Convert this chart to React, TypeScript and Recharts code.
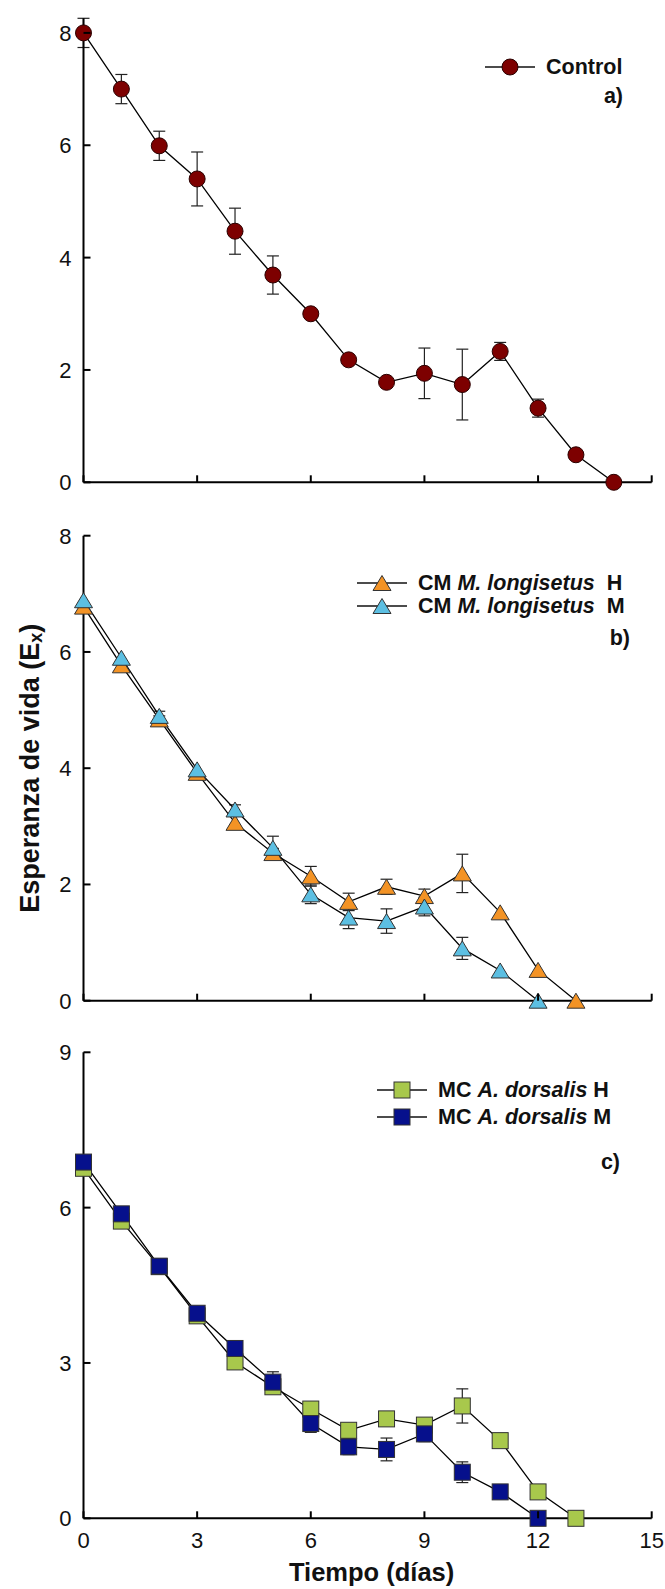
import React from 'react'
import { LineChart, Line, XAxis, YAxis, ErrorBar, Legend, Label } from 'recharts'

const FONT = 'Arial, "Liberation Sans", Helvetica, sans-serif'

// a) Control
const diasControl = [0, 1, 2, 3, 4, 5, 6, 7, 8, 9, 10, 11, 12, 13, 14]
const control = [8.0, 7.0, 5.99, 5.4, 4.47, 3.69, 3.0, 2.18, 1.78, 1.94, 1.74, 2.33, 1.32, 0.49, 0]
const controlErr = [0.26, 0.26, 0.26, 0.48, 0.41, 0.34, 0, 0, 0, 0.45, 0.63, 0.16, 0.16, 0, 0]

// b) CM M. longisetus
const diasB = [0, 1, 2, 3, 4, 5, 6, 7, 8, 9, 10, 11, 12, 13]
const longisetusH = [6.78, 5.77, 4.84, 3.92, 3.06, 2.54, 2.14, 1.7, 1.96, 1.8, 2.19, 1.52, 0.53, 0]
const longisetusHErr = [0, 0, 0.06, 0, 0, 0.08, 0.17, 0.15, 0.13, 0.12, 0.33, 0, 0, 0]
const longisetusM = [6.89, 5.9, 4.9, 3.98, 3.29, 2.63, 1.83, 1.43, 1.37, 1.62, 0.9, 0.52, 0]
const longisetusMErr = [0, 0, 0.08, 0, 0.08, 0.2, 0.16, 0.19, 0.21, 0.16, 0.19, 0, 0]

// c) MC A. dorsalis
const diasC = [0, 1, 2, 3, 4, 5, 6, 7, 8, 9, 10, 11, 12, 13]
const dorsalisH = [6.76, 5.74, 4.86, 3.91, 3.02, 2.54, 2.11, 1.7, 1.92, 1.8, 2.17, 1.5, 0.51, 0]
const dorsalisHErr = [0, 0, 0, 0, 0, 0.1, 0.12, 0.1, 0, 0.1, 0.33, 0, 0, 0]
const dorsalisM = [6.88, 5.88, 4.87, 3.96, 3.28, 2.63, 1.83, 1.38, 1.33, 1.63, 0.89, 0.51, 0]
const dorsalisMErr = [0, 0, 0, 0, 0, 0.2, 0.17, 0.15, 0.22, 0.15, 0.2, 0, 0]

const ticksX = [0, 3, 6, 9, 12, 15]
const ticksYab = [0, 2, 4, 6, 8]
const ticksYc = [0, 3, 6, 9]

const RED = '#7d0000'
const ORANGE = '#f39325'
const SKY = '#5cbfe2'
const LIME = '#a8c84c'
const NAVY = '#06108c'

const dataA = diasControl.map((d, i) => ({ dia: d, control: control[i], controlErr: controlErr[i] }))
const dataB = diasB.map((d, i) => ({
  dia: d,
  h: longisetusH[i],
  hErr: longisetusHErr[i],
  m: longisetusM[i] ?? null,
  mErr: longisetusMErr[i] ?? 0,
}))
const dataC = diasC.map((d, i) => ({
  dia: d,
  h: dorsalisH[i],
  hErr: dorsalisHErr[i],
  m: dorsalisM[i] ?? null,
  mErr: dorsalisMErr[i] ?? 0,
}))

type Mark = { cx?: number | null; cy?: number | null; fill: string }

function Circle({ cx, cy, fill }: Mark) {
  if (cx == null || cy == null) return <g />
  return <circle cx={cx} cy={cy} r={8} fill={fill} stroke="#2a0000" strokeWidth={1} />
}

function Triangle({ cx, cy, fill }: Mark) {
  if (cx == null || cy == null) return <g />
  const w = 9
  const h = 7.5
  return (
    <polygon
      points={`${cx},${cy - h} ${cx + w},${cy + h} ${cx - w},${cy + h}`}
      fill={fill}
      stroke="#333"
      strokeWidth={1}
    />
  )
}

function Square({ cx, cy, fill }: Mark) {
  if (cx == null || cy == null) return <g />
  return <rect x={cx - 8} y={cy - 8} width={16} height={16} fill={fill} stroke="#333" strokeWidth={1} />
}

const axisStroke = { stroke: '#000', strokeWidth: 2 }
const TICK_FONT = 22

// ticks point inwards, so draw tick mark + label ourselves
function YTick(props: any) {
  const { x, y, payload } = props
  return (
    <g>
      <line x1={x} x2={x + 7} y1={y} y2={y} stroke="#000" strokeWidth={2} />
      <text x={x - 12} y={y + 7.9} textAnchor="end" fontFamily={FONT} fontSize={TICK_FONT} fill="#111">
        {payload.value}
      </text>
    </g>
  )
}

function XTick(props: any) {
  const { x, y, payload, show } = props
  return (
    <g>
      <line x1={x} x2={x} y1={y} y2={y - 7} stroke="#000" strokeWidth={2} />
      {show && (
        <text x={x} y={y + 30} textAnchor="middle" fontFamily={FONT} fontSize={TICK_FONT} fill="#111">
          {payload.value}
        </text>
      )}
    </g>
  )
}

type LegendItem = { shape: 'circle' | 'triangle' | 'square'; fill: string; label: React.ReactNode }

function LegendBox({ items, rowGap, letter, letterTop, width }: {
  items: LegendItem[]
  rowGap: number
  letter: string
  letterTop: number
  width: number
}) {
  return (
    <div style={{ position: 'relative', width, height: letterTop + 24, fontFamily: FONT, fontWeight: 'bold', fontSize: 21.5, color: '#111' }}>
      {items.map((it, i) => (
        <div key={i} style={{ position: 'absolute', left: 0, top: i * rowGap, height: 22, display: 'flex', alignItems: 'center', whiteSpace: 'nowrap' }}>
          <svg width={50} height={22}>
            <line x1={0} x2={50} y1={11} y2={11} stroke="#111" strokeWidth={1.3} />
            {it.shape === 'circle' && <Circle cx={25} cy={11} fill={it.fill} />}
            {it.shape === 'triangle' && <Triangle cx={25} cy={11} fill={it.fill} />}
            {it.shape === 'square' && <Square cx={25} cy={11} fill={it.fill} />}
          </svg>
          <span style={{ marginLeft: 11 }}>{it.label}</span>
        </div>
      ))}
      <div style={{ position: 'absolute', right: 0, top: letterTop, height: 22, lineHeight: '22px' }}>{letter}</div>
    </div>
  )
}

function YTitle(props: any) {
  const vb = props.viewBox || { x: 0, y: 35.7, width: 83.5, height: 465 }
  const x = 30
  const y = vb.y + vb.height / 2
  return (
    <text
      x={x}
      y={y}
      transform={`rotate(-90, ${x}, ${y})`}
      textAnchor="middle"
      dominantBaseline="central"
      fontFamily={FONT}
      fontWeight="bold"
      fontSize={27}
      fill="#111"
    >
      Esperanza de vida (E<tspan dy={6} fontSize={18}>x</tspan><tspan dy={-6}>)</tspan>
    </text>
  )
}

function XTitle(props: any) {
  const vb = props.viewBox || { x: 83.5, y: 498.3, width: 568, height: 70.7 }
  return (
    <text
      x={vb.x + vb.width / 2 + 4}
      y={vb.y + 54}
      textAnchor="middle"
      dominantBaseline="central"
      fontFamily={FONT}
      fontWeight="bold"
      fontSize={25.5}
      fill="#111"
    >
      Tiempo (días)
    </text>
  )
}

const W = 665

export default function App() {
  return (
    <div style={{ position: 'absolute', left: 0, top: 0, width: W, height: 1589, background: '#fff' }}>
      {/* a) Control */}
      <div style={{ position: 'absolute', left: 0, top: 0 }}>
        <LineChart width={W} height={500} data={dataA} margin={{ top: 18.3, right: 13.3, bottom: 0, left: 0 }}>
          <XAxis type="number" dataKey="dia" domain={[0, 15]} ticks={ticksX} interval={0} height={17.7}
            tickSize={0} tickMargin={0} axisLine={axisStroke} tickLine={false}
            tick={(p: any) => <XTick {...p} show={false} />} />
          <YAxis type="number" domain={[0, 8]} ticks={ticksYab} interval={0} width={83.5}
            tickSize={0} tickMargin={0} axisLine={axisStroke} tickLine={false}
            tick={(p: any) => <YTick {...p} />} />
          <Legend layout="vertical" align="center" verticalAlign="middle"
            wrapperStyle={{ left: 485, top: 56, width: 138 }}
            content={() => (
              <LegendBox width={138} rowGap={22} letterTop={29} letter="a)"
                items={[{ shape: 'circle', fill: RED, label: 'Control' }]} />
            )} />
          <Line type="linear" dataKey="control" stroke="#000" strokeWidth={1.3} isAnimationActive={false} activeDot={false}
            dot={(p: any) => <Circle key={p.index} cx={p.cx} cy={p.cy} fill={RED} />}>
            <ErrorBar dataKey="controlErr" width={6} stroke="#222" strokeWidth={1.2} direction="y" />
          </Line>
        </LineChart>
      </div>

      {/* b) CM M. longisetus */}
      <div style={{ position: 'absolute', left: 0, top: 500 }}>
        <LineChart width={W} height={520} data={dataB} margin={{ top: 35.7, right: 13.3, bottom: 0, left: 0 }}>
          <XAxis type="number" dataKey="dia" domain={[0, 15]} ticks={ticksX} interval={0} height={19.3}
            tickSize={0} tickMargin={0} axisLine={axisStroke} tickLine={false}
            tick={(p: any) => <XTick {...p} show={false} />} />
          <YAxis type="number" domain={[0, 8]} ticks={ticksYab} interval={0} width={83.5}
            tickSize={0} tickMargin={0} axisLine={axisStroke} tickLine={false}
            tick={(p: any) => <YTick {...p} />}>
            <Label content={(p: any) => <YTitle {...p} />} />
          </YAxis>
          <Legend layout="vertical" align="center" verticalAlign="middle"
            wrapperStyle={{ left: 357, top: 72, width: 273 }}
            content={() => (
              <LegendBox width={273} rowGap={23} letterTop={55} letter="b)"
                items={[
                  { shape: 'triangle', fill: ORANGE, label: <>CM <i>M. longisetus</i>{'\u00a0\u00a0'}H</> },
                  { shape: 'triangle', fill: SKY, label: <>CM <i>M. longisetus</i>{'\u00a0\u00a0'}M</> },
                ]} />
            )} />
          <Line type="linear" dataKey="h" stroke="#000" strokeWidth={1.3} isAnimationActive={false} activeDot={false}
            dot={(p: any) => <Triangle key={p.index} cx={p.cx} cy={p.cy} fill={ORANGE} />}>
            <ErrorBar dataKey="hErr" width={6} stroke="#222" strokeWidth={1.2} direction="y" />
          </Line>
          <Line type="linear" dataKey="m" stroke="#000" strokeWidth={1.3} isAnimationActive={false} activeDot={false}
            dot={(p: any) => <Triangle key={p.index} cx={p.cx} cy={p.cy} fill={SKY} />}>
            <ErrorBar dataKey="mErr" width={6} stroke="#222" strokeWidth={1.2} direction="y" />
          </Line>
        </LineChart>
      </div>

      {/* c) MC A. dorsalis */}
      <div style={{ position: 'absolute', left: 0, top: 1020 }}>
        <LineChart width={W} height={569} data={dataC} margin={{ top: 32.3, right: 13.3, bottom: 0, left: 0 }}>
          <XAxis type="number" dataKey="dia" domain={[0, 15]} ticks={ticksX} interval={0} height={70.7}
            tickSize={0} tickMargin={0} axisLine={axisStroke} tickLine={false}
            tick={(p: any) => <XTick {...p} show />}>
            <Label content={(p: any) => <XTitle {...p} />} />
          </XAxis>
          <YAxis type="number" domain={[0, 9]} ticks={ticksYc} interval={0} width={83.5}
            tickSize={0} tickMargin={0} axisLine={axisStroke} tickLine={false}
            tick={(p: any) => <YTick {...p} />} />
          <Legend layout="vertical" align="center" verticalAlign="middle"
            wrapperStyle={{ left: 377, top: 59, width: 243 }}
            content={() => (
              <LegendBox width={243} rowGap={27} letterTop={72} letter="c)"
                items={[
                  { shape: 'square', fill: LIME, label: <>MC <i>A. dorsalis</i> H</> },
                  { shape: 'square', fill: NAVY, label: <>MC <i>A. dorsalis</i> M</> },
                ]} />
            )} />
          <Line type="linear" dataKey="h" stroke="#000" strokeWidth={1.3} isAnimationActive={false} activeDot={false}
            dot={(p: any) => <Square key={p.index} cx={p.cx} cy={p.cy} fill={LIME} />}>
            <ErrorBar dataKey="hErr" width={6} stroke="#222" strokeWidth={1.2} direction="y" />
          </Line>
          <Line type="linear" dataKey="m" stroke="#000" strokeWidth={1.3} isAnimationActive={false} activeDot={false}
            dot={(p: any) => <Square key={p.index} cx={p.cx} cy={p.cy} fill={NAVY} />}>
            <ErrorBar dataKey="mErr" width={6} stroke="#222" strokeWidth={1.2} direction="y" />
          </Line>
        </LineChart>
      </div>
    </div>
  )
}
